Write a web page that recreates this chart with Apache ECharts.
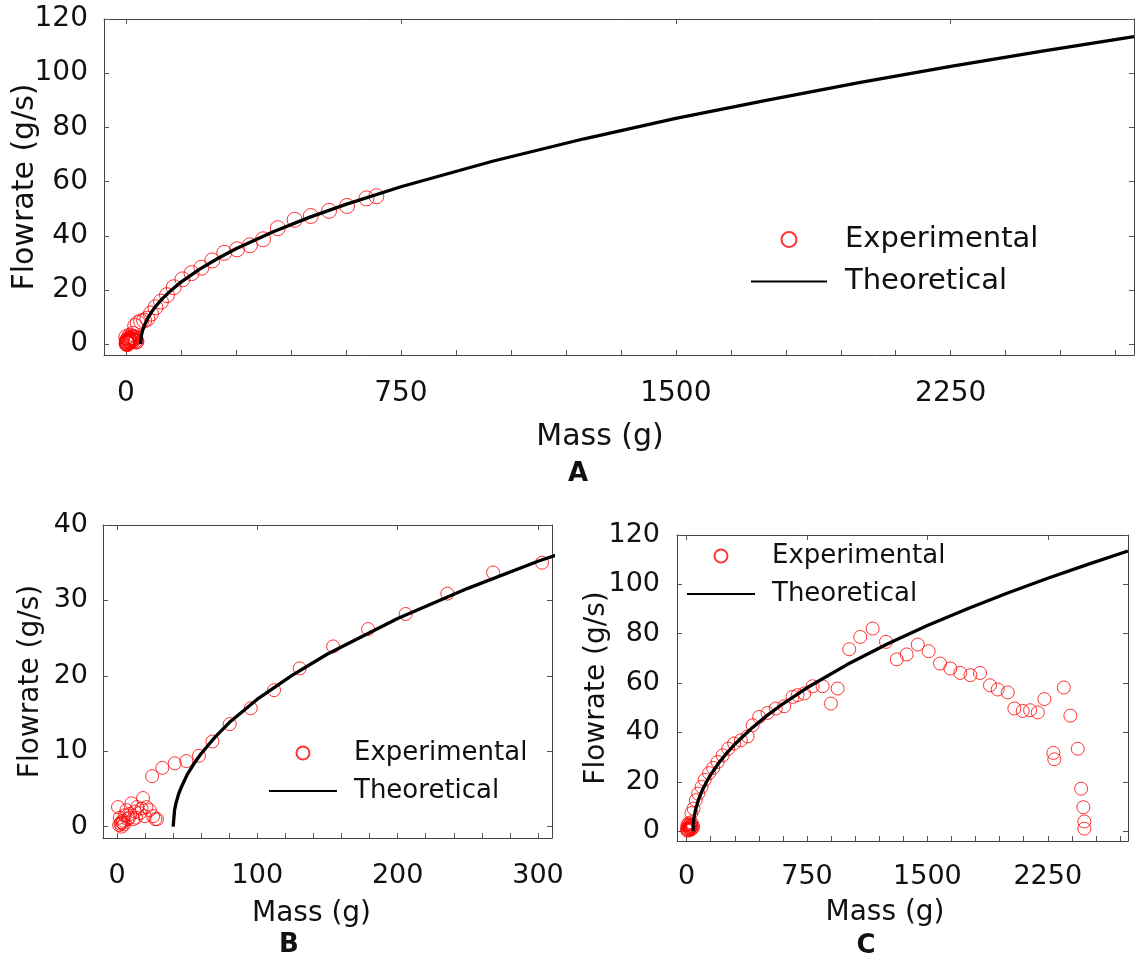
<!DOCTYPE html>
<html>
<head>
<meta charset="utf-8">
<script src="https://cdn.jsdelivr.net/npm/echarts@6/dist/echarts.min.js"></script>
<style>html,body{margin:0;padding:0;background:#fff}#c{width:1135px;height:959px}</style>
</head>
<body>
<div id="c"></div>
<script>
// ---- Data ----
// Experimental run shown in panels A and B (B is a zoom of A)
const expMassA = [0.7, 2.4, 3.3, 4.3, 5.5, 6.7, 8.6, 10.3, 11.5, 12.7, 14.3, 16.3, 18.5, 19.7, 21, 23.3, 25.7, 27.3, 28.5,
  1.5, 3.0, 5.0, 7.5, 9.5, 2.0, 4.0, 13.5, 17.5,
  25, 32.3, 41.1, 49.4, 58.4, 68, 80.3, 95.3, 111.9, 130.2, 154, 178.9, 205.7, 235.4, 268, 302.9,
  338, 374, 414, 460, 504, 554, 603, 656, 683];
const expFlowA = [2.6, 0.4, 0.0, 0.8, 1.5, 2.2, 1.2, 3.1, 1.0, 2.0, 2.6, 1.8, 3.8, 1.4, 2.6, 2.2, 1.4, 1.0, 1.0,
  0.2, 0.6, 0.3, 1.0, 1.7, 1.2, 0.5, 1.2, 2.4,
  6.7, 7.8, 8.4, 8.7, 9.4, 11.3, 13.6, 15.7, 18.1, 21.0, 23.9, 26.2, 28.2, 30.9, 33.7, 35.0,
  36.5, 38.7, 42.8, 45.9, 47.3, 49.2, 51.0, 53.8, 54.6];
// Experimental run shown in panel C
const expMassC = [2, 5, 8, 10, 12, 15, 18, 20, 22, 25, 28, 30, 33, 36, 40, 4, 14, 26, 30, 43,
  57, 72, 93, 113, 140, 165, 193, 224, 259, 296, 338, 380, 411, 452, 504, 556, 608, 660, 691, 733, 785,
  847, 899, 941, 1013, 1082, 1159, 1242, 1309, 1371, 1440, 1508, 1579, 1643, 1705, 1768, 1828, 1890,
  1938, 2001, 2042, 2094, 2140, 2188, 2229, 2285, 2291, 2350, 2391, 2437, 2458, 2472, 2478, 2478];
const expFlowC = [1.0, 2.5, 0.5, 1.8, 3.2, 1.2, 2.2, 0.8, 2.8, 1.5, 3.6, 2.0, 1.0, 2.6, 1.6, 0.2, 0.4, 0.6, 7.3, 9.1,
  12.5, 15.2, 17.9, 20.8, 23.5, 25.6, 28.0, 30.7, 33.4, 35.5, 36.8, 38.4, 42.9, 46.3, 47.9, 49.7, 50.6, 54.4, 55.1, 55.8, 58.7,
  58.7, 51.7, 57.8, 73.7, 78.7, 82.1, 76.7, 69.6, 71.6, 75.6, 72.9, 67.9, 65.9, 64.1, 63.2, 64.1, 59.1,
  57.4, 56.2, 49.7, 48.7, 49.0, 48.1, 53.5, 31.7, 29.1, 58.2, 46.8, 33.4, 17.2, 9.7, 3.9, 1.0];
// Theoretical curve
const theoMass = [40, 41, 42, 44, 46, 50, 55, 60, 70, 80, 100, 125, 150, 200, 250, 300, 400, 500, 600, 750,
  1000, 1250, 1500, 1750, 2000, 2250, 2500, 2750];
const theoFlow = [0, 2.2, 3.1, 4.4, 5.3, 6.9, 8.4, 9.7, 11.9, 13.8, 16.9, 20.1, 22.9, 27.6, 31.6, 35.2, 41.4, 46.8, 51.6, 58.1,
  67.5, 75.8, 83.3, 90.1, 96.5, 102.5, 108.1, 113.5];
// Tick labels
const xTicksAC = [0, 750, 1500, 2250];
const xMinorAC = [0, 150, 300, 450, 600, 750, 900, 1050, 1200, 1350, 1500, 1650, 1800, 1950, 2100, 2250, 2400, 2550, 2700];
const yTicksAC = [0, 20, 40, 60, 80, 100, 120];
const xTicksB = [0, 100, 200, 300];
const xMinorB = [0, 20, 40, 60, 80, 100, 120, 140, 160, 180, 200, 220, 240, 260, 280, 300];
const yTicksB = [0, 10, 20, 30, 40];

const FONT = 'DejaVu Sans';
const pairs = (xs, ys) => xs.map((x, i) => [x, ys[i]]);
const axisLine = {show: true, onZero: false, lineStyle: {color: '#444', width: 1}};
const plain = v => String(v);

function xAx(grid, min, max, ticks, minor, fs, margin, pos) {
  const main = pos === 'bottom';
  return {
    gridIndex: grid, type: 'value', min, max, position: pos,
    axisLine,
    axisTick: {show: true, inside: true, length: 5, lineStyle: {color: '#555'}, customValues: main ? minor : ticks},
    axisLabel: {show: main, customValues: ticks, formatter: plain, fontSize: fs, fontFamily: FONT, color: '#111', margin},
    splitLine: {show: false}
  };
}
function yAx(grid, min, max, ticks, fs, margin, pos) {
  const main = pos === 'left';
  return {
    gridIndex: grid, type: 'value', min, max, position: pos,
    axisLine,
    axisTick: {show: true, inside: true, length: 5, lineStyle: {color: '#555'}, customValues: ticks},
    axisLabel: {show: main, customValues: ticks, formatter: plain, fontSize: fs, fontFamily: FONT, color: '#111', margin},
    splitLine: {show: false}
  };
}
const nameStyle = (fs, padRight) => ({fontSize: fs, fontFamily: FONT, color: '#111', padding: [0, padRight || 0, 0, 0]});

const xA = xAx(0, -60, 2750, xTicksAC, xMinorAC, 28, 25, 'bottom');
Object.assign(xA, {name: 'Mass (g)', nameLocation: 'middle', nameGap: 67, nameTextStyle: nameStyle(30, 38)});
const xB = xAx(1, -10, 310, xTicksB, xMinorB, 27, 24, 'bottom');
Object.assign(xB, {name: 'Mass (g)', nameLocation: 'middle', nameGap: 62, nameTextStyle: nameStyle(28, 32)});
const xC = xAx(2, -60, 2750, xTicksAC, xMinorAC, 27, 22, 'bottom');
Object.assign(xC, {name: 'Mass (g)', nameLocation: 'middle', nameGap: 58, nameTextStyle: nameStyle(28, 35)});

const yA = yAx(0, -4, 120, yTicksAC, 28, 16, 'left');
Object.assign(yA, {name: 'Flowrate (g/s)', nameLocation: 'middle', nameGap: 64, nameMoveOverlap: false, nameTextStyle: nameStyle(30)});
const yB = yAx(1, -1.5, 40, yTicksB, 27, 15, 'left');
Object.assign(yB, {name: 'Flowrate (g/s)', nameLocation: 'middle', nameGap: 58, nameMoveOverlap: false, nameTextStyle: nameStyle(28)});
const yC = yAx(2, -4, 120, yTicksAC, 27, 17, 'left');
Object.assign(yC, {name: 'Flowrate (g/s)', nameLocation: 'middle', nameGap: 66, nameMoveOverlap: false, nameTextStyle: nameStyle(28)});

const scatterStyle = {color: 'rgba(0,0,0,0)', borderColor: '#ff0000', borderWidth: 1};
const lineStyle = {color: '#000', width: 3.3};
const lineItem = {color: '#000', opacity: 0};

const option = {
  backgroundColor: '#fff',
  animation: false,
  textStyle: {fontFamily: FONT},
  grid: [
    {left: 104, top: 19, width: 1030, height: 336, outerBoundsMode: 'none', containLabel: false},
    {left: 103, top: 525, width: 449, height: 313, outerBoundsMode: 'none', containLabel: false},
    {left: 677, top: 535, width: 451, height: 306, outerBoundsMode: 'none', containLabel: false}
  ],
  xAxis: [xA, xB, xC,
    xAx(0, -60, 2750, xTicksAC, xMinorAC, 28, 25, 'top'),
    xAx(1, -10, 310, xTicksB, xMinorB, 27, 24, 'top'),
    xAx(2, -60, 2750, xTicksAC, xMinorAC, 27, 22, 'top')],
  yAxis: [yA, yB, yC,
    yAx(0, -4, 120, yTicksAC, 28, 16, 'right'),
    yAx(1, -1.5, 40, yTicksB, 27, 15, 'right'),
    yAx(2, -4, 120, yTicksAC, 27, 17, 'right')],
  legend: [
    {orient: 'vertical', left: 750, top: 225, padding: 0, itemWidth: 76, itemHeight: 15, itemGap: 13,
     textStyle: {fontSize: 29, fontFamily: FONT, color: '#111', padding: [0, 0, 0, 13]},
     data: ['Experimental', 'Theoretical']},
    {orient: 'vertical', left: 268, top: 740, padding: 0, itemWidth: 68, itemHeight: 13, itemGap: 12,
     textStyle: {fontSize: 26, fontFamily: FONT, color: '#111', padding: [0, 0, 0, 12]},
     data: ['Experimental', 'Theoretical']},
    {orient: 'vertical', left: 686, top: 543, padding: 0, itemWidth: 68, itemHeight: 13, itemGap: 12,
     textStyle: {fontSize: 26, fontFamily: FONT, color: '#111', padding: [0, 0, 0, 12]},
     data: ['Experimental', 'Theoretical']}
  ],
  series: [
    {name: 'Experimental', type: 'scatter', xAxisIndex: 0, yAxisIndex: 0, symbol: 'circle', symbolSize: 15,
     itemStyle: scatterStyle, data: pairs(expMassA, expFlowA), z: 3},
    {name: 'Theoretical', type: 'line', xAxisIndex: 0, yAxisIndex: 0, symbol: 'none', showSymbol: false,
     itemStyle: lineItem, lineStyle, data: pairs(theoMass, theoFlow), z: 4},
    {name: 'Experimental', type: 'scatter', xAxisIndex: 1, yAxisIndex: 1, symbol: 'circle', symbolSize: 13,
     itemStyle: scatterStyle, data: pairs(expMassA, expFlowA), z: 3},
    {name: 'Theoretical', type: 'line', xAxisIndex: 1, yAxisIndex: 1, symbol: 'none', showSymbol: false,
     itemStyle: lineItem, lineStyle, data: pairs(theoMass, theoFlow), z: 4},
    {name: 'Experimental', type: 'scatter', xAxisIndex: 2, yAxisIndex: 2, symbol: 'circle', symbolSize: 13,
     itemStyle: scatterStyle, data: pairs(expMassC, expFlowC), z: 3},
    {name: 'Theoretical', type: 'line', xAxisIndex: 2, yAxisIndex: 2, symbol: 'none', showSymbol: false,
     itemStyle: lineItem, lineStyle, data: pairs(theoMass, theoFlow), z: 4}
  ],
  graphic: [
    {type: 'text', x: 578, y: 474, style: {text: 'A', font: 'bold 26px "DejaVu Sans"', fill: '#111', textAlign: 'center', textVerticalAlign: 'middle'}},
    {type: 'text', x: 289, y: 945, style: {text: 'B', font: 'bold 26px "DejaVu Sans"', fill: '#111', textAlign: 'center', textVerticalAlign: 'middle'}},
    {type: 'text', x: 866, y: 946, style: {text: 'C', font: 'bold 26px "DejaVu Sans"', fill: '#111', textAlign: 'center', textVerticalAlign: 'middle'}}
  ]
};
const chart = echarts.init(document.getElementById('c'), null, {renderer: 'canvas'});
chart.setOption(option);
</script>
</body>
</html>
